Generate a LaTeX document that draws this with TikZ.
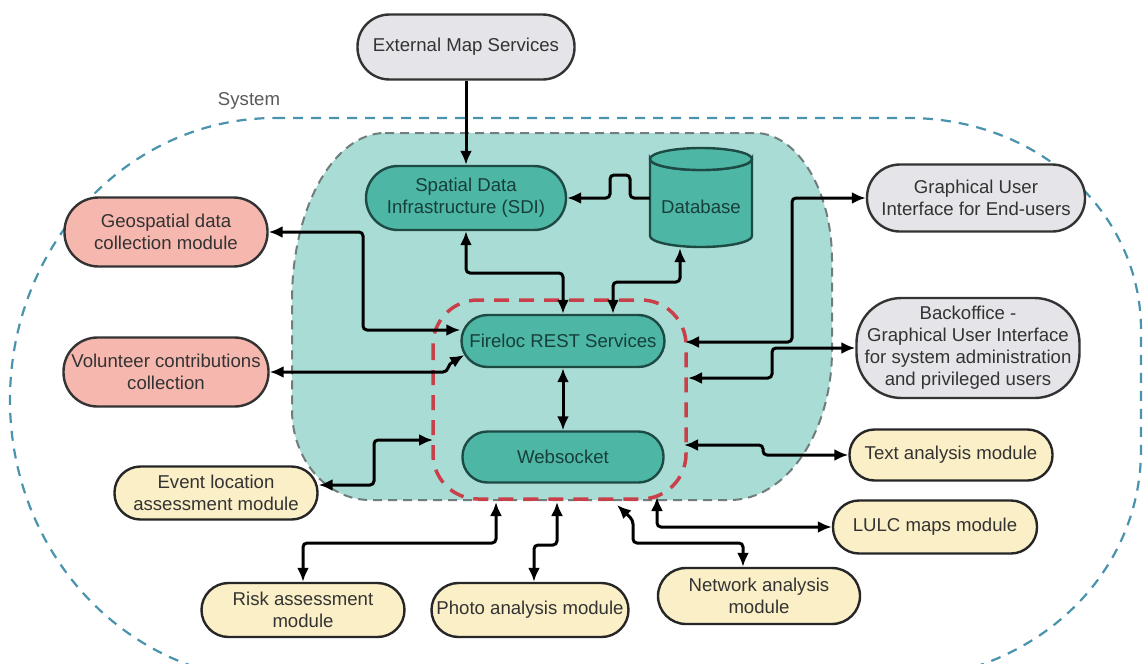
\documentclass[tikz,border=0pt]{standalone}
\usepackage{fontspec}
\setmainfont{Liberation Sans}
\usetikzlibrary{arrows.meta}
\definecolor{sysblue}{HTML}{4A93AE}
\definecolor{lteal}{HTML}{AADCD6}
\definecolor{mteal}{HTML}{4DB6A5}
\definecolor{dteal}{HTML}{1E4A44}
\definecolor{tealtxt}{HTML}{163F3A}
\definecolor{ppink}{HTML}{F6B7AF}
\definecolor{lgray}{HTML}{E5E5E9}
\definecolor{cream}{HTML}{FBEFC7}
\definecolor{rred}{HTML}{C9404B}
\definecolor{bgray}{HTML}{6F7D7C}
\definecolor{txt}{HTML}{333333}
\begin{document}
\begin{tikzpicture}[x=1pt,y=-1pt,
  >={Latex[length=14pt,width=12pt]},
  base/.style={rectangle, line width=2.4pt, inner sep=0pt, align=center,
    font=\fontsize{18.6}{22}\selectfont, text=txt},
  tealbox/.style={base, fill=mteal, draw=dteal, text=tealtxt},
  pinkbox/.style={base, fill=ppink, draw=black!80},
  graybox/.style={base, fill=lgray, draw=black!80},
  creambox/.style={base, fill=cream, draw=black!85},
  conn/.style={line width=3pt, rounded corners=4pt, black}
]
\useasboundingbox (0,0) rectangle (1146,664);
\fill[white] (0,0) rectangle (1146,664);

% outer system boundary
\draw[sysblue, line width=2.2pt, dash pattern=on 10pt off 8pt]
  (275,118) -- (908,118) .. controls (1039,118) and (1141,213) .. (1141,330)
  -- (1141,450) .. controls (1141,577) and (1031,680) .. (890,680)
  -- (275,680) .. controls (129,680) and (10,555) .. (10,400)
  .. controls (10,244) and (129,118) .. (275,118) -- cycle;
\node[font=\fontsize{18.6}{22}\selectfont, text=black!65] (syslbl) at (249,101) {System};

% inner teal region
\draw[fill=lteal, draw=bgray, line width=2pt, dash pattern=on 9pt off 6pt]
  (385,133) -- (755,133) .. controls (797,133) and (832,190) .. (832,260)
  -- (832,350) .. controls (832,433) and (786,500) .. (730,500)
  -- (370,500) .. controls (327,500) and (292,460) .. (292,410)
  -- (292,300) .. controls (292,208) and (334,133) .. (385,133) -- cycle;

% red dashed group
\draw[rred, line width=3.5pt, dash pattern=on 15pt off 10pt, rounded corners=45pt]
  (433,300) rectangle (686,499);

% database cylinder
\filldraw[fill=mteal, draw=dteal, line width=2.4pt]
  (650,159) -- (650,236) .. controls (650,242) and (673,247) .. (701,247)
  .. controls (729,247) and (752,242) .. (752,236) -- (752,159)
  .. controls (752,165) and (729,170) .. (701,170)
  .. controls (673,170) and (650,165) .. (650,159) -- cycle;
\filldraw[fill=mteal, draw=dteal, line width=2.4pt] (701,159) ellipse [x radius=51, y radius=11];
\node[minimum width=102pt, minimum height=100pt, inner sep=0pt] (db) at (701,198) {};
\node[font=\fontsize{18.6}{22}\selectfont, text=tealtxt] (dbtext) at (701,207) {Database};

% nodes
\node[graybox, minimum width=217pt, minimum height=65pt, rounded corners=32pt] (ext) at (466,47) {External Map Services};
\node[tealbox, minimum width=200pt, minimum height=64pt, rounded corners=32pt] (sdi) at (466,198) {Spatial Data\\Infrastructure (SDI)};
\node[tealbox, minimum width=203pt, minimum height=52pt, rounded corners=26pt] (fire) at (563,341) {Fireloc REST Services};
\node[tealbox, minimum width=201pt, minimum height=51pt, rounded corners=25pt] (web) at (563,457) {Websocket};

\node[pinkbox, minimum width=203pt, minimum height=69pt, rounded corners=34pt] (geo) at (166,232) {Geospatial data\\collection module};
\node[pinkbox, minimum width=205pt, minimum height=69pt, rounded corners=34pt] (vol) at (166,372) {Volunteer contributions\\collection};

\node[graybox, minimum width=218pt, minimum height=67pt, rounded corners=33pt] (gui) at (976,198) {Graphical User\\Interface for End-users};
\node[graybox, minimum width=223pt, minimum height=100pt, rounded corners=45pt] (back) at (968,348) {Backoffice -\\Graphical User Interface\\for system administration\\and privileged users};

\node[creambox, minimum width=203pt, minimum height=53pt, rounded corners=26pt] (ev) at (216,493) {Event location\\assessment module};
\node[creambox, minimum width=203pt, minimum height=54pt, rounded corners=27pt] (risk) at (303,610) {Risk assessment\\module};
\node[creambox, minimum width=197pt, minimum height=54pt, rounded corners=27pt] (photo) at (530,610) {Photo analysis module};
\node[creambox, minimum width=202pt, minimum height=56pt, rounded corners=28pt] (net) at (759,596) {Network analysis\\module};
\node[creambox, minimum width=203pt, minimum height=51pt, rounded corners=25pt] (tam) at (951,455) {Text analysis module};
\node[creambox, minimum width=204pt, minimum height=53pt, rounded corners=26pt] (lulc) at (935,527) {LULC maps module};

% boundary end points
\coordinate (rR1) at (685,342);
\coordinate (rR2) at (688,378);
\coordinate (rR3) at (684,445);
\coordinate (rB4) at (657,497);
\coordinate (rB3) at (617,505);
\coordinate (rB2) at (557,502);
\coordinate (rB1) at (496,502);
\coordinate (rL) at (433,440);

% connectors
\draw[conn,->] (ext) -- (sdi);
\draw[conn,->] (db.west) -- (630,198) -- (630,175) -- (610,175) -- (610,198) -- (sdi.east);
\draw[conn,<->] (sdi.south) -- (466,273) -- (563,273) -- (fire.north);
\draw[conn,<->] ([xshift=-21pt]db.south) -- (680,282) -- (613,282) -- ([xshift=50pt]fire.north);
\draw[conn,<->] (geo.east) -- (363,232) -- (363,330) -- ([yshift=11pt]fire.west);
\draw[conn,<->] (vol.east) -- (447,372) -- (449,364) -- ([xshift=4pt,yshift=-14pt]fire.west);
\draw[conn,<->] (fire) -- (web);
\draw[conn,<->] (rR1) -- (792,342) -- (792,198) -- (gui.west);
\draw[conn,<->] (rR2) -- (772,378) -- (772,348) -- (back.west);
\draw[conn,<->] (rR3) -- (763,445) -- (763,455) -- (tam.west);
\draw[conn,<->] (rB4) -- (657,527) -- (lulc.west);
\draw[conn,<->] (rB3) -- (633,520) -- (633,543) -- (743,543) -- ([xshift=-16pt]net.north);
\draw[conn,<->] ([xshift=4pt]photo.north) -- (534,545) -- (557,545) -- (rB2);
\draw[conn,<->] (risk.north) -- (303,543) -- (496,543) -- (rB1);
\draw[conn,<->] ([yshift=8pt]ev.east) -- (374,485) -- (374,440) -- (rL);
\end{tikzpicture}
\end{document}
